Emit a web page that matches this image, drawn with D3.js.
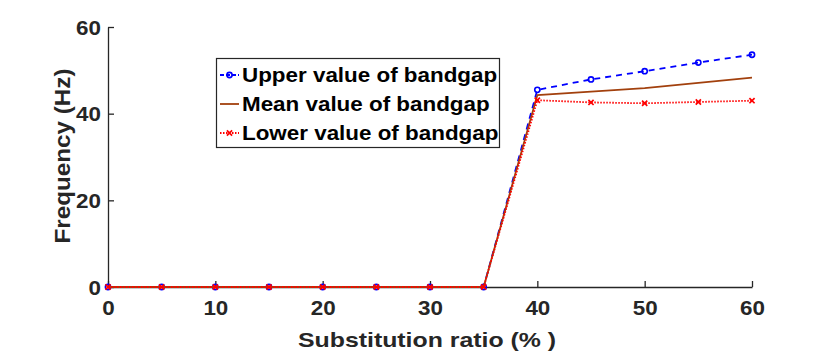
<!DOCTYPE html>
<html><head><meta charset="utf-8">
<script src="https://cdn.jsdelivr.net/npm/d3@7"></script>
<style>body{margin:0;background:#fff}svg text{font-family:"Liberation Sans",Arial,sans-serif;font-weight:bold;fill:#262626}</style>
</head><body><svg id="c" width="830" height="354"></svg>
<script>
const ratios = [0, 5, 10, 15, 20, 25, 30, 35, 40, 45, 50, 55, 60];
const upperValues = [0, 0, 0, 0, 0, 0, 0, 0, 45.5, 47.9, 49.8, 51.8, 53.6];
const meanValues  = [0, 0, 0, 0, 0, 0, 0, 0, 44.3, 45.1, 45.9, 47.1, 48.3];
const lowerValues = [0, 0, 0, 0, 0, 0, 0, 0, 43.1, 42.6, 42.4, 42.7, 43.0];
const xTicks = [0, 10, 20, 30, 40, 50, 60];
const yTicks = [0, 20, 40, 60];
const seriesNames = ["Upper value of bandgap", "Mean value of bandgap", "Lower value of bandgap"];

const svg = d3.select("#c");
const x = d3.scaleLinear().domain([0, 60]).range([108, 752]);
const y = d3.scaleLinear().domain([0, 60]).range([287, 27]);
const axisColor = "#262626";
const STRETCH = 1.12;
function stretch(sel, k) {
  sel.each(function() {
    const len = this.getComputedTextLength();
    d3.select(this).attr("textLength", len * (k || STRETCH)).attr("lengthAdjust", "spacingAndGlyphs");
  });
}

// axes
const gx = svg.append("g").attr("transform", "translate(0,287)")
  .call(d3.axisBottom(x).tickValues(xTicks).tickSizeInner(-6).tickSizeOuter(0).tickPadding(13.5));
const gy = svg.append("g").attr("transform", "translate(108,0)")
  .call(d3.axisLeft(y).tickValues(yTicks).tickSizeInner(-6).tickSizeOuter(0).tickPadding(7));
[gx, gy].forEach(g => {
  g.select(".domain").attr("stroke", axisColor).attr("stroke-width", 1.3);
  g.selectAll(".tick line").attr("stroke", axisColor).attr("stroke-width", 1.3);
  g.selectAll(".tick text").attr("font-size", 20).attr("fill", axisColor)
    .style("font-family", '"Liberation Sans",Arial,sans-serif').style("font-weight", "bold");
  stretch(g.selectAll(".tick text"));
});
gy.selectAll(".tick text").attr("dy", "0.36em");

svg.append("text").attr("x", 427).attr("y", 347).attr("text-anchor", "middle")
  .attr("font-size", 20.5).attr("textLength", 258).attr("lengthAdjust", "spacingAndGlyphs")
  .text("Substitution ratio (% )");
svg.append("text").attr("transform", `translate(70,${156}) rotate(-90)`).attr("text-anchor", "middle")
  .attr("font-size", 22).attr("textLength", 175).attr("lengthAdjust", "spacingAndGlyphs").text("Frequency (Hz)");

const series = [
  {name: seriesNames[0], vals: upperValues, color: "#0000ff", dash: "6,5", marker: "circle"},
  {name: seriesNames[1], vals: meanValues, color: "#a2400d", dash: null, marker: null},
  {name: seriesNames[2], vals: lowerValues, color: "#ff0000", dash: "1.5,1.5", marker: "x"}
];
const line = d3.line().x((d, i) => x(ratios[i])).y(d => y(d));

function drawMarker(g, type, cx, cy, color) {
  if (type === "circle") {
    g.append("circle").attr("cx", cx).attr("cy", cy).attr("r", 2.6)
      .attr("fill", "none").attr("stroke", color).attr("stroke-width", 1.6);
  } else if (type === "x") {
    const s = 2.6;
    g.append("path").attr("d", `M${cx-s},${cy-s}L${cx+s},${cy+s}M${cx-s},${cy+s}L${cx+s},${cy-s}`)
      .attr("stroke", color).attr("stroke-width", 1.7).attr("fill", "none");
  }
}

series.forEach(s => {
  const g = svg.append("g");
  g.append("path").datum(s.vals).attr("d", line).attr("fill", "none")
    .attr("stroke", s.color).attr("stroke-width", 1.8)
    .attr("stroke-dasharray", s.dash);
  if (s.marker) s.vals.forEach((v, i) => drawMarker(g, s.marker, x(ratios[i]), y(v), s.color));
});

// legend
const lg = svg.append("g");
lg.append("rect").attr("x", 216.5).attr("y", 58.5).attr("width", 283).attr("height", 89)
  .attr("fill", "#fff").attr("stroke", axisColor).attr("stroke-width", 1.2);
series.forEach((s, i) => {
  const cy = 75 + i * 29;
  lg.append("line").attr("x1", 220).attr("x2", 239).attr("y1", cy).attr("y2", cy)
    .attr("stroke", s.color).attr("stroke-width", 1.8).attr("stroke-dasharray", s.dash ? (i === 0 ? "4,2" : "1.5,1.5") : null);
  if (s.marker) drawMarker(lg, s.marker, 229.5, cy, s.color);
  stretch(lg.append("text").attr("x", 242).attr("y", cy).attr("dy", "0.36em").attr("font-size", 20)
    .style("fill", "#000").text(s.name));
});
</script></body></html>
